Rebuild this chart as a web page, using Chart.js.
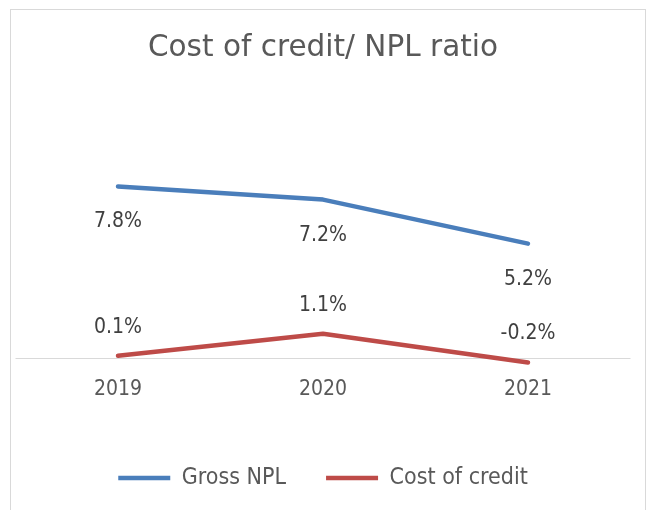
<!DOCTYPE html>
<html>
<head>
<meta charset="utf-8">
<script src="https://cdn.jsdelivr.net/npm/chart.js@4.4.1/dist/chart.umd.min.js"></script>
<style>
html,body{margin:0;padding:0;background:#fff;}
#wrap{width:651px;height:510px;position:relative;}
</style>
</head>
<body>
<div id="wrap"><canvas id="c" width="651" height="510"></canvas></div>
<script>
const categories = ['2019', '2020', '2021'];
const grossNPL = [7.8, 7.2, 5.2];
const costOfCredit = [0.1, 1.1, -0.2];
const seriesNames = ['Gross NPL', 'Cost of credit'];
const titleText = 'Cost of credit/ NPL ratio';

const BODYFONT = '"DejaVu Sans Condensed", "DejaVu Sans", sans-serif';
const TITLEFONT = '"DejaVu Sans", sans-serif';

const framePlugin = {
  id: 'frame',
  beforeDraw(chart) {
    const ctx = chart.ctx;
    ctx.save();
    ctx.fillStyle = '#fff';
    ctx.fillRect(0, 0, chart.width, chart.height);
    ctx.strokeStyle = '#d9d9d9';
    ctx.lineWidth = 1;
    ctx.strokeRect(10.5, 9.5, 635, 530);
    ctx.restore();
  },
  beforeDatasetsDraw(chart) {
    const ctx = chart.ctx;
    const y = Math.round(chart.scales.y.getPixelForValue(0)) + 0.5;
    ctx.save();
    ctx.strokeStyle = '#d9d9d9';
    ctx.lineWidth = 1;
    ctx.beginPath();
    ctx.moveTo(chart.chartArea.left, y);
    ctx.lineTo(chart.chartArea.right, y);
    ctx.stroke();
    ctx.restore();
  },
  afterDatasetsDraw(chart) {
    const ctx = chart.ctx;
    ctx.save();
    ctx.font = '21px ' + BODYFONT;
    ctx.fillStyle = '#404040';
    ctx.textAlign = 'center';
    ctx.textBaseline = 'alphabetic';
    chart.data.datasets.forEach((ds, i) => {
      const meta = chart.getDatasetMeta(i);
      meta.data.forEach((pt, j) => {
        const v = ds.data[j];
        const off = i === 0 ? 41 : -23.3;
        ctx.fillText(v.toFixed(1) + '%', pt.x, pt.y + off);
      });
    });
    ctx.restore();
  }
};

new Chart(document.getElementById('c'), {
  type: 'line',
  data: {
    labels: categories,
    datasets: [
      { label: seriesNames[0], data: grossNPL, borderColor: '#4a7ebb', backgroundColor: '#4a7ebb', borderWidth: 4.5, borderCapStyle: 'round', borderJoinStyle: 'round', pointRadius: 0, tension: 0, clip: false },
      { label: seriesNames[1], data: costOfCredit, borderColor: '#be4b48', backgroundColor: '#be4b48', borderWidth: 4.5, borderCapStyle: 'round', borderJoinStyle: 'round', pointRadius: 0, tension: 0, clip: false }
    ]
  },
  options: {
    responsive: false,
    animation: false,
    devicePixelRatio: 1,
    layout: { padding: { left: 15.5, right: 20.5, top: 0, bottom: 10.5 } },
    plugins: {
      title: {
        display: true,
        text: titleText,
        color: '#595959',
        font: { family: TITLEFONT, size: 29.5, weight: 'normal', lineHeight: 1.2 },
        padding: { top: 30.3, bottom: 72.3 }
      },
      legend: {
        display: true,
        position: 'bottom',
        labels: {
          color: '#595959',
          font: { family: BODYFONT, size: 23 },
          usePointStyle: true,
          pointStyle: 'line',
          pointStyleWidth: 52,
          padding: 40
        }
      },
      tooltip: { enabled: false }
    },
    scales: {
      x: {
        offset: true,
        grid: { display: false, drawTicks: true, tickLength: -13.3 },
        border: { display: false },
        ticks: { color: '#595959', font: { family: BODYFONT, size: 21, lineHeight: 1.2 }, padding: 23.9 }
      },
      y: {
        display: false,
        min: -0.4,
        max: 10
      }
    }
  },
  plugins: [framePlugin]
});
</script>
</body>
</html>
